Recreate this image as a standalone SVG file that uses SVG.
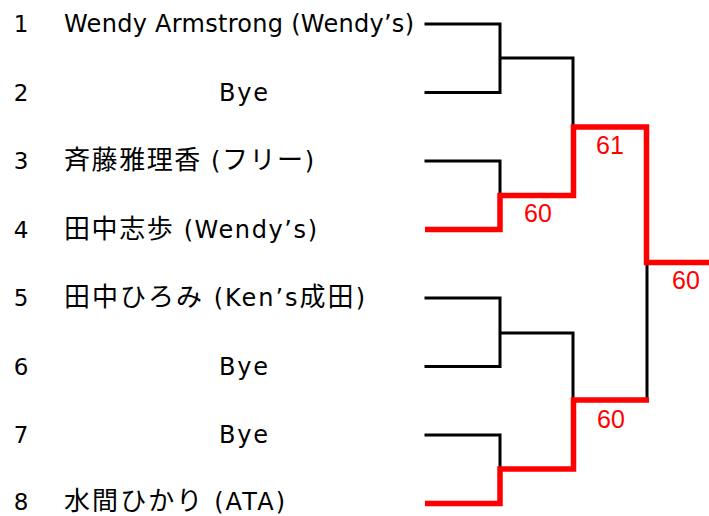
<svg xmlns="http://www.w3.org/2000/svg" width="709" height="516" viewBox="0 0 709 516">
<style>
.t{font-family:"DejaVu Sans","Noto Sans CJK JP",sans-serif;font-size:24px;fill:#000}
.j{font-family:"Noto Sans CJK JP",sans-serif;font-size:26px}
.n{font-family:"DejaVu Sans",sans-serif;font-size:23px;fill:#000;text-anchor:middle}
.s{font-family:"Liberation Sans",sans-serif;font-size:25px;fill:#ff0000;text-anchor:middle}
.k{fill:none;stroke:#000;stroke-width:3;stroke-linecap:square}
.r{fill:none;stroke:#ff0000;stroke-width:5.5;stroke-linejoin:miter;stroke-linecap:butt}
</style>
<rect width="709" height="516" fill="#fff"/>
<g id="p1"><text class="n" x="21" y="32">1</text><text class="t" x="64" y="32" textLength="350" lengthAdjust="spacing">Wendy Armstrong (Wendy’s)</text></g>
<g id="p2"><text class="n" x="21" y="100.5">2</text><text class="t" x="219" y="100.5" textLength="49" lengthAdjust="spacing">Bye</text></g>
<g id="p3"><text class="n" x="21" y="169">3</text><text class="t" x="64" y="169" textLength="250" lengthAdjust="spacing"><tspan class="j">斉藤雅理香</tspan> (<tspan class="j">フリー</tspan>)</text></g>
<g id="p4"><text class="n" x="21" y="237.5">4</text><text class="t" x="64" y="237.5" textLength="253" lengthAdjust="spacing"><tspan class="j">田中志歩</tspan> (Wendy’s)</text></g>
<g id="p5"><text class="n" x="21" y="306">5</text><text class="t" x="64" y="306" textLength="301" lengthAdjust="spacing"><tspan class="j">田中ひろみ</tspan> (Ken’s<tspan class="j">成田</tspan>)</text></g>
<g id="p6"><text class="n" x="21" y="374.5">6</text><text class="t" x="219" y="374.5" textLength="49" lengthAdjust="spacing">Bye</text></g>
<g id="p7"><text class="n" x="21" y="443">7</text><text class="t" x="219" y="443" textLength="49" lengthAdjust="spacing">Bye</text></g>
<g id="p8"><text class="n" x="21" y="510">8</text><text class="t" x="64" y="510" textLength="221" lengthAdjust="spacing"><tspan class="j" font-size="25">水間ひかり</tspan> (ATA)</text></g>
<g id="connectors">
<path class="k" d="M426 24H500V92.5H426M500 58H573V127M426 161H500V195"/>
<path class="k" d="M426 298H500V366.5H426M500 333H573V400M426 435H500V469M647 262V400"/>
<path class="r" d="M425 229.5H500V195.5H573.5V127H646.5V262.5H709"/>
<path class="r" d="M425 503.5H500V469H573.5V400H649"/>
</g>
<g id="scores">
<text class="s" x="610" y="154">61</text>
<text class="s" x="538" y="222">60</text>
<text class="s" x="686" y="289">60</text>
<text class="s" x="611" y="428">60</text>
</g>
</svg>
